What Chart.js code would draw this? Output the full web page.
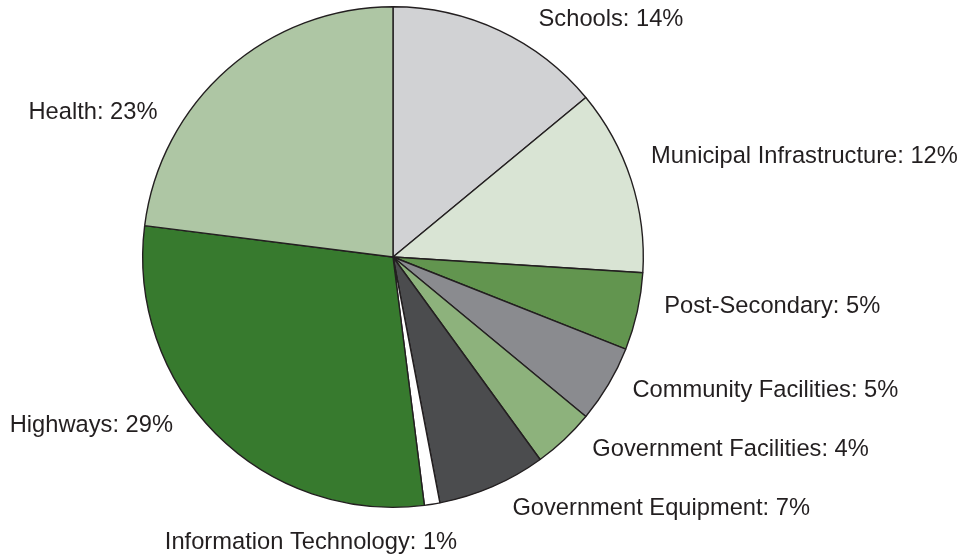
<!DOCTYPE html>
<html>
<head>
<meta charset="utf-8">
<script src="https://cdn.jsdelivr.net/npm/chart.js@4/dist/chart.umd.min.js"></script>
<style>
  html, body { margin: 0; padding: 0; background: #ffffff; }
  #wrap { width: 966px; height: 558px; position: relative; }
</style>
</head>
<body>
<div id="wrap"><canvas id="pie" width="966" height="558"></canvas></div>
<script>
// Capital spending by sector, share of total (%), clockwise from 12 o'clock
const categories = [
  'Schools',
  'Municipal Infrastructure',
  'Post-Secondary',
  'Community Facilities',
  'Government Facilities',
  'Government Equipment',
  'Information Technology',
  'Highways',
  'Health'
];
const shares = [14, 12, 5, 5, 4, 7, 1, 29, 23];
const sliceColors = [
  '#d1d2d4', '#d9e4d4', '#62954f', '#8a8b8f', '#8db27c',
  '#4b4c4e', '#ffffff', '#377a2e', '#aec6a4'
];

// Where each slice's caption sits relative to the middle of its outer edge
const captionPlacement = [
  { dx: 39,  dy: -5,  align: 'left' },
  { dx: 20,  dy: -17, align: 'left' },
  { dx: 27,  dy: 1,   align: 'left' },
  { dx: 24,  dy: 13,  align: 'left' },
  { dx: 28,  dy: 17,  align: 'left' },
  { dx: 20,  dy: 28,  align: 'left' },
  { dx: 25,  dy: 45,  align: 'right' },
  { dx: -43, dy: -2,  align: 'right' },
  { dx: -70, dy: 50,  align: 'right' }
];

const sliceCaptions = {
  id: 'sliceCaptions',
  afterDatasetsDraw(chart, args, opts) {
    const ctx = chart.ctx;
    const meta = chart.getDatasetMeta(0);
    ctx.save();
    ctx.font = opts.font;
    ctx.fillStyle = opts.color;
    ctx.textBaseline = 'alphabetic';
    meta.data.forEach((arc, i) => {
      const p = arc.getProps(['x', 'y', 'startAngle', 'endAngle', 'outerRadius'], true);
      const mid = (p.startAngle + p.endAngle) / 2;
      const ax = p.x + Math.cos(mid) * p.outerRadius;
      const ay = p.y + Math.sin(mid) * p.outerRadius;
      const place = opts.placement[i];
      ctx.textAlign = place.align;
      const text = chart.data.labels[i] + ': ' + chart.data.datasets[0].data[i] + '%';
      ctx.fillText(text, ax + place.dx, ay + place.dy);
    });
    ctx.restore();
  }
};

new Chart(document.getElementById('pie'), {
  type: 'pie',
  data: {
    labels: categories,
    datasets: [{
      data: shares,
      backgroundColor: sliceColors,
      borderColor: '#231f20',
      borderWidth: 1.4,
      hoverOffset: 0
    }]
  },
  options: {
    responsive: false,
    animation: false,
    events: [],
    layout: { padding: { top: 6, bottom: 50, left: 142, right: 322 } },
    plugins: {
      legend: { display: false },
      tooltip: { enabled: false },
      sliceCaptions: {
        font: '23.7px "Liberation Sans", Arial, Helvetica, sans-serif',
        color: '#231f20',
        placement: captionPlacement
      }
    }
  },
  plugins: [sliceCaptions]
});
</script>
</body>
</html>
